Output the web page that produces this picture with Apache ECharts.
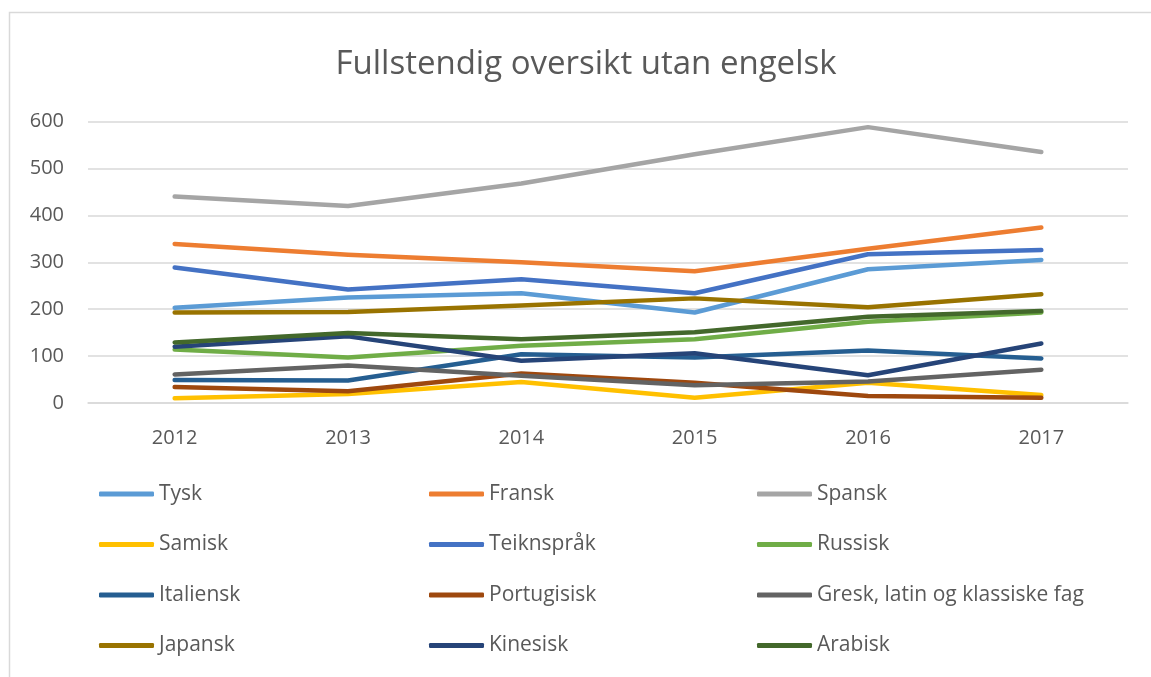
<!DOCTYPE html>
<html>
<head>
<meta charset="utf-8">
<script src="https://cdn.jsdelivr.net/npm/echarts@6/dist/echarts.min.js"></script>
<style>
html,body{margin:0;padding:0;background:#fff;}
#chart{width:1151px;height:677px;}
</style>
</head>
<body>
<div id="chart"></div>
<script>
const years = ['2012', '2013', '2014', '2015', '2016', '2017'];
const yTicks = [0, 100, 200, 300, 400, 500, 600];

const tysk        = [203, 225, 234, 193, 285, 305];
const fransk      = [339, 316, 300, 281, 329, 374];
const spansk      = [440, 420, 468, 530, 588, 535];
const samisk      = [10, 19, 45, 11, 43, 17];
const teiknsprak  = [289, 242, 264, 234, 317, 326];
const russisk     = [114, 97, 122, 136, 173, 193];
const italiensk   = [49, 48, 104, 97, 112, 95];
const portugisisk = [34, 25, 63, 43, 15, 11];
const gresk       = [61, 80, 58, 38, 46, 71];
const japansk     = [193, 194, 208, 223, 204, 232];
const kinesisk    = [120, 142, 90, 106, 59, 127];
const arabisk     = [129, 149, 136, 151, 184, 196];

const seriesNames = ['Tysk', 'Fransk', 'Spansk', 'Samisk', 'Teiknspråk', 'Russisk',
  'Italiensk', 'Portugisisk', 'Gresk, latin og klassiske fag', 'Japansk', 'Kinesisk', 'Arabisk'];
const seriesData = [tysk, fransk, spansk, samisk, teiknsprak, russisk,
  italiensk, portugisisk, gresk, japansk, kinesisk, arabisk];
const colors = ['#5B9BD5', '#ED7D31', '#A5A5A5', '#FFC000', '#4472C4', '#70AD47',
  '#255E91', '#9E480E', '#636363', '#997300', '#264478', '#43682B'];

const FONT = '"Open Sans", "Liberation Sans", sans-serif';
const TXT = '#595959';

const chart = echarts.init(document.getElementById('chart'), null, {renderer: 'canvas'});

function legendCol(left, names) {
  return {
    orient: 'vertical',
    left: left,
    top: 482,
    padding: 0,
    itemWidth: 55,
    itemHeight: 5,
    itemGap: 26.5,
    icon: 'roundRect',
    data: names,
    textStyle: {fontFamily: FONT, fontSize: 21, color: TXT, lineHeight: 24},
    selectedMode: false
  };
}

const option = {
  backgroundColor: '#ffffff',
  animation: false,
  color: colors,
  title: {
    text: 'Fullstendig oversikt utan engelsk',
    left: 586,
    top: 48,
    padding: 0,
    textAlign: 'center',
    textStyle: {fontFamily: FONT, fontSize: 33, fontWeight: 'normal', color: TXT}
  },
  graphic: [{
    type: 'rect',
    shape: {x: 9.5, y: 12.5, width: 1200, height: 700},
    style: {fill: 'none', stroke: '#d9d9d9', lineWidth: 1.5},
    silent: true,
    z: -10
  }],
  grid: {left: 88, right: 23, top: 121.5, bottom: 274, containLabel: false},
  legend: [
    legendCol(99, [seriesNames[0], seriesNames[3], seriesNames[6], seriesNames[9]]),
    legendCol(429, [seriesNames[1], seriesNames[4], seriesNames[7], seriesNames[10]]),
    legendCol(757, [seriesNames[2], seriesNames[5], seriesNames[8], seriesNames[11]])
  ],
  xAxis: {
    type: 'category',
    data: years,
    boundaryGap: true,
    axisLine: {show: true, lineStyle: {color: '#d9d9d9', width: 1.5}},
    axisTick: {show: false},
    axisLabel: {fontFamily: FONT, fontSize: 20, color: TXT, margin: 25}
  },
  yAxis: {
    type: 'value',
    min: yTicks[0],
    max: yTicks[yTicks.length - 1],
    interval: 100,
    axisLine: {show: false},
    axisTick: {show: false},
    splitLine: {lineStyle: {color: '#d9d9d9', width: 1.5}},
    axisLabel: {fontFamily: FONT, fontSize: 20, color: TXT, margin: 24}
  },
  series: seriesNames.map((n, i) => ({
    name: n,
    type: 'line',
    data: seriesData[i],
    symbol: 'none',
    lineStyle: {width: 4.5, color: colors[i], cap: 'round', join: 'round'},
    itemStyle: {color: colors[i]}
  }))
};
chart.setOption(option);
</script>
</body>
</html>
